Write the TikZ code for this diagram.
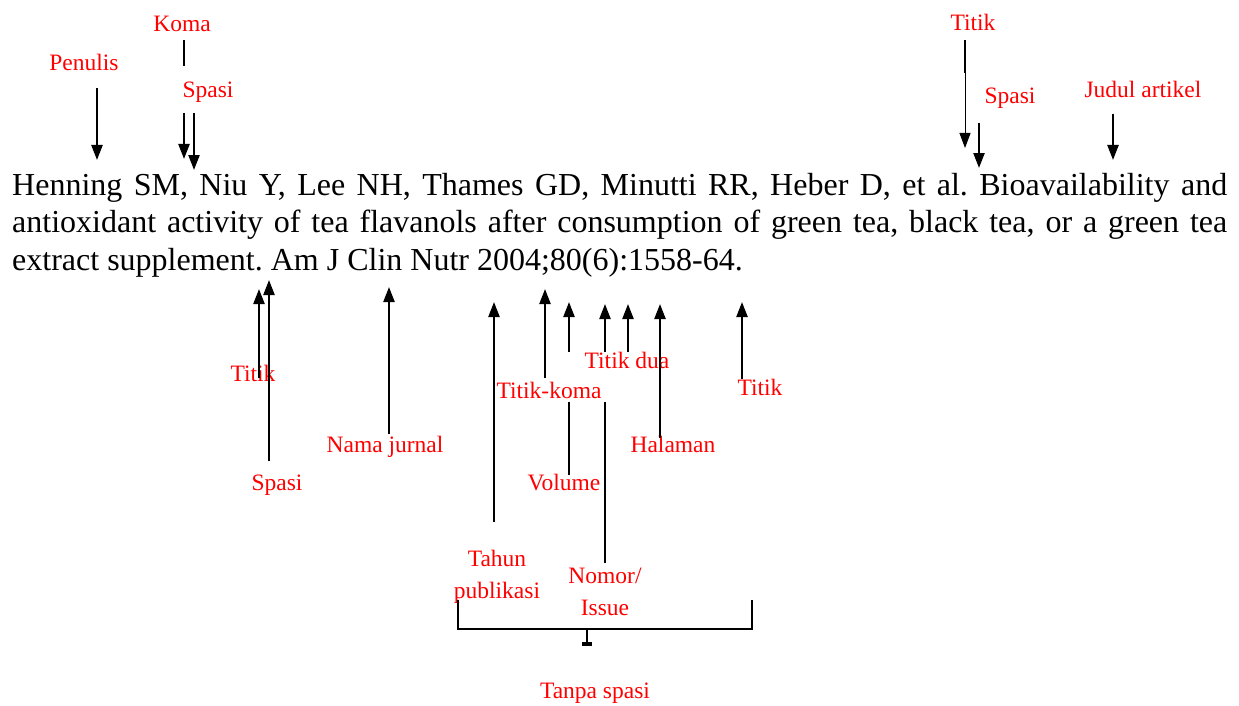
\documentclass[tikz,border=0pt]{standalone}
\usepackage{fontspec}
\setmainfont{Liberation Serif}
\usetikzlibrary{arrows.meta}
\frenchspacing
\begin{document}
\begin{tikzpicture}[x=1pt,y=-1pt,
  lbl/.style={text=red,font=\fontsize{23.5}{32}\selectfont,inner sep=0,anchor=base},
  lbl2/.style={text=red,font=\fontsize{23.5}{32}\selectfont,inner sep=0,anchor=north,align=center},
  maintext/.style={inner sep=0,anchor=base west,font=\fontsize{32}{37.5}\selectfont},
  arr/.style={line width=2.3pt,-{Triangle[width=11pt,length=15pt]}},
  thinarr/.style={line width=1pt,-{Triangle[width=11pt,length=15pt]}},
  stub/.style={line width=2.3pt,-{Rectangle[width=10pt,length=4pt]}},
  ln/.style={line width=2.3pt},
  ]
\useasboundingbox (0,0) rectangle (1239,706);

% main reference text
\node[maintext] (l1) at (12,195) {\makebox[1215pt][s]{Henning SM, Niu Y, Lee NH, Thames GD, Minutti RR, Heber D, et al. Bioavailability and}};
\node[maintext] (l2) at (12,232.5) {\makebox[1215pt][s]{antioxidant activity of tea flavanols after consumption of green tea, black tea, or a green tea}};
\node[maintext] (l3) at (12,270) {extract supplement. Am J Clin Nutr 2004;80(6):1558-64.};

% labels
\node[lbl] (koma) at (182,32) {Koma};
\node[lbl] (penulis) at (84,71) {Penulis};
\node[lbl] (spasiA) at (208,97.5) {Spasi};
\node[lbl] (titikA) at (973,30.5) {Titik};
\node[lbl] (spasiB) at (1010,104) {Spasi};
\node[lbl] (judul) at (1143,97.5) {Judul artikel};
\node[lbl] (titikB) at (253,381.5) {Titik};
\node[lbl] (spasiC) at (277,490.5) {Spasi};
\node[lbl] (nama) at (385,452.5) {Nama jurnal};
\node[lbl] (tkoma) at (549,398.5) {Titik-koma};
\node[lbl] (tdua) at (627,368.5) {Titik dua};
\node[lbl] (titikC) at (760,395.5) {Titik};
\node[lbl] (halaman) at (673,452.5) {Halaman};
\node[lbl] (volume) at (564,490.5) {Volume};
\node[lbl2] (tahun) at (497,549.5) {Tahun\\publikasi};
\node[lbl2] (nomor) at (605,567.5) {Nomor/\\Issue};
\node[lbl] (tanpa) at (595,698.5) {Tanpa spasi};

% connector end points
\coordinate (penS) at (97,88);   \coordinate (penT) at (97,160);
\coordinate (komS) at (184,40);  \coordinate (komM) at (184,66);
\coordinate (komR) at (184,113); \coordinate (komT) at (184,159);
\coordinate (spaS) at (194,113); \coordinate (spaT) at (194,170);
\coordinate (titS) at (965,40);  \coordinate (titM) at (965,73);
\coordinate (titT) at (965,148);
\coordinate (spbS) at (979,123); \coordinate (spbT) at (979,168);
\coordinate (judS) at (1113,114); \coordinate (judT) at (1113,160);

\coordinate (tibS) at (259,378); \coordinate (tibT) at (259,289);
\coordinate (spcS) at (269,461); \coordinate (spcT) at (269,280);
\coordinate (namS) at (389,434); \coordinate (namT) at (389,287);
\coordinate (tahS) at (494,522); \coordinate (tahT) at (494,302);
\coordinate (tkoS) at (545,378); \coordinate (tkoT) at (545,289);
\coordinate (volS) at (569,352); \coordinate (volT) at (569,302);
\coordinate (volA) at (569,402); \coordinate (volB) at (569,475);
\coordinate (nomS) at (605,352); \coordinate (nomT) at (605,304);
\coordinate (nomA) at (605,402); \coordinate (nomB) at (605,563);
\coordinate (tduS) at (628,352); \coordinate (tduT) at (628,304);
\coordinate (halS) at (660,438); \coordinate (halT) at (660,304);
\coordinate (ticS) at (742,379); \coordinate (ticT) at (742,302);

\coordinate (brA) at (458,600); \coordinate (brB) at (458,629);
\coordinate (brC) at (752,629); \coordinate (brD) at (752,600);
\coordinate (brM) at (587,629); \coordinate (brT) at (587,645.5);

% top connectors
\draw[arr] (penS) -- (penT);
\draw[ln] (komS) -- (komM);
\draw[arr] (komR) -- (komT);
\draw[arr] (spaS) -- (spaT);
\draw[ln] (titS) -- (titM);
\draw[thinarr] (titM) -- (titT);
\draw[arr] (spbS) -- (spbT);
\draw[arr] (judS) -- (judT);

% bottom connectors
\draw[arr] (tibS) -- (tibT);
\draw[arr] (spcS) -- (spcT);
\draw[arr] (namS) -- (namT);
\draw[arr] (tahS) -- (tahT);
\draw[arr] (tkoS) -- (tkoT);
\draw[arr] (volS) -- (volT);
\draw[ln] (volA) -- (volB);
\draw[arr] (nomS) -- (nomT);
\draw[ln] (nomA) -- (nomB);
\draw[arr] (tduS) -- (tduT);
\draw[arr] (halS) -- (halT);
\draw[arr] (ticS) -- (ticT);

% bracket
\draw[ln] (brA) -- (brB) -- (brC) -- (brD);
\draw[stub] (brM) -- (brT);
\end{tikzpicture}
\end{document}
